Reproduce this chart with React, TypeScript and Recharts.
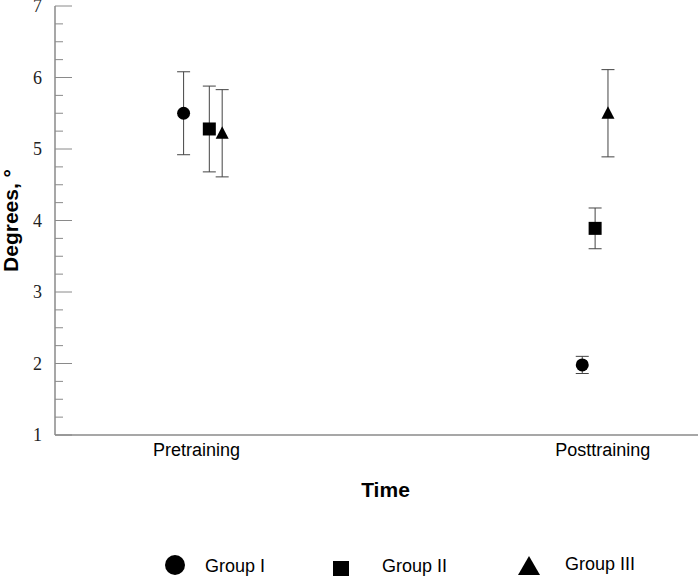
import React from 'react';
import { ScatterChart, Scatter, XAxis, YAxis, ErrorBar, Legend, Label } from 'recharts';

// ---- data ----
const timeLabels = ['Pretraining', 'Posttraining'];
const timeTickPositions = [2.2, 8.52];
const groupNames = ['Group I', 'Group II', 'Group III'];

const groupIX = [2.0, 8.2];
const groupIMean = [5.5, 1.98];
const groupIErr = [0.58, 0.12];

const groupIIX = [2.4, 8.4];
const groupIIMean = [5.28, 3.89];
const groupIIErr = [0.6, 0.285];

const groupIIIX = [2.6, 8.6];
const groupIIIMean = [5.22, 5.5];
const groupIIIErr = [0.61, 0.61];

const yMajorTicks = [1, 2, 3, 4, 5, 6, 7];

// ---- derived ----
const build = (xs: number[], ys: number[], es: number[]) =>
  xs.map((x, i) => ({ x, y: ys[i], err: es[i] }));
const groupIData = build(groupIX, groupIMean, groupIErr);
const groupIIData = build(groupIIX, groupIIMean, groupIIErr);
const groupIIIData = build(groupIIIX, groupIIIMean, groupIIIErr);

const yTicks: number[] = yMajorTicks.flatMap((v, i) =>
  i < yMajorTicks.length - 1 ? [v, v + 0.25, v + 0.5, v + 0.75] : [v]
);

const SANS = '"Liberation Sans", Arial, sans-serif';
const SERIF = '"Liberation Serif", "Times New Roman", serif';
const AXIS = '#8a8a8a';

const CircleShape = (p: any) => <circle cx={p.cx} cy={p.cy} r={6.5} fill="#000" />;
const SquareShape = (p: any) => (
  <rect x={p.cx - 6.5} y={p.cy - 6.5} width={13} height={13} fill="#000" />
);
const TriangleShape = (p: any) => (
  <polygon
    points={`${p.cx},${p.cy - 7} ${p.cx - 6.5},${p.cy + 5.5} ${p.cx + 6.5},${p.cy + 5.5}`}
    fill="#000"
  />
);

const YTick = (props: any) => {
  const { x, y, payload } = props;
  const v = payload.value;
  const major = Math.abs(v - Math.round(v)) < 1e-9;
  const axisX = x + 13;
  return (
    <g>
      <line x1={axisX} x2={axisX + (major ? 17 : 8)} y1={y} y2={y} stroke={AXIS} strokeWidth={1} />
      {major && (
        <text x={x} y={y} dy={6} textAnchor="end" fontFamily={SERIF} fontSize={18} fill="#222">
          {v}
        </text>
      )}
    </g>
  );
};

const legendSymbols = [
  (cx: number, cy: number) => <circle cx={cx} cy={cy} r={10} fill="#000" />,
  (cx: number, cy: number) => <rect x={cx - 8} y={cy - 7} width={16} height={15} fill="#000" />,
  (cx: number, cy: number) => (
    <polygon points={`${cx},${cy - 10} ${cx - 11},${cy + 9} ${cx + 11},${cy + 9}`} fill="#000" />
  ),
];
const legendSymbolX = [175, 341, 529];
const legendSymbolY = [48, 51, 49];
const legendTextX = [205, 382, 565];
const legendTextY = [55, 55, 53];

const LegendContent = () => (
  <div style={{ width: 698, height: 60 }}>
    <svg width={698} height={60} style={{ display: 'block' }}>
      {groupNames.map((name, i) => (
        <g key={name}>
          {legendSymbols[i](legendSymbolX[i], legendSymbolY[i])}
          <text x={legendTextX[i]} y={legendTextY[i]} fontFamily={SANS} fontSize={18} fill="#000">
            {name}
          </text>
        </g>
      ))}
    </svg>
  </div>
);

export default function App() {
  return (
    <div style={{ position: 'absolute', left: 0, top: 0, width: 698, height: 577, background: '#fff' }}>
      <ScatterChart width={698} height={577} margin={{ top: 6, right: 0, bottom: 0, left: 0 }}>
        <XAxis
          type="number"
          dataKey="x"
          domain={[0, 10]}
          ticks={timeTickPositions}
          interval={0}
          tickFormatter={(v: number) => timeLabels[timeTickPositions.indexOf(v)] ?? ''}
          tickLine={false}
          axisLine={{ stroke: AXIS, strokeWidth: 1.5 }}
          tick={{ fill: '#000', fontSize: 18, fontFamily: SANS }}
          height={82}
        >
          <Label
            value="Time"
            position="insideBottom"
            offset={20}
            dx={9}
            style={{ fontFamily: SANS, fontSize: 21, fontWeight: 'bold', fill: '#000' }}
          />
        </XAxis>
        <YAxis
          type="number"
          dataKey="y"
          domain={[1, 7]}
          ticks={yTicks}
          interval={0}
          tickSize={0}
          tickMargin={13}
          tickLine={false}
          axisLine={{ stroke: AXIS, strokeWidth: 1.5 }}
          tick={<YTick />}
          width={55}
        >
          <Label
            value="Degrees, °"
            angle={-90}
            position="insideLeft"
            offset={11}
            style={{ fontFamily: SANS, fontSize: 21, fontWeight: 'bold', fill: '#000', textAnchor: 'middle' }}
          />
        </YAxis>
        <Legend verticalAlign="bottom" content={<LegendContent />} />
        <Scatter name={groupNames[0]} data={groupIData} shape={CircleShape} isAnimationActive={false}>
          <ErrorBar dataKey="err" direction="y" width={6.5} stroke="#444" strokeWidth={1} isAnimationActive={false} />
        </Scatter>
        <Scatter name={groupNames[1]} data={groupIIData} shape={SquareShape} isAnimationActive={false}>
          <ErrorBar dataKey="err" direction="y" width={6.5} stroke="#444" strokeWidth={1} isAnimationActive={false} />
        </Scatter>
        <Scatter name={groupNames[2]} data={groupIIIData} shape={TriangleShape} isAnimationActive={false}>
          <ErrorBar dataKey="err" direction="y" width={6.5} stroke="#444" strokeWidth={1} isAnimationActive={false} />
        </Scatter>
      </ScatterChart>
    </div>
  );
}
